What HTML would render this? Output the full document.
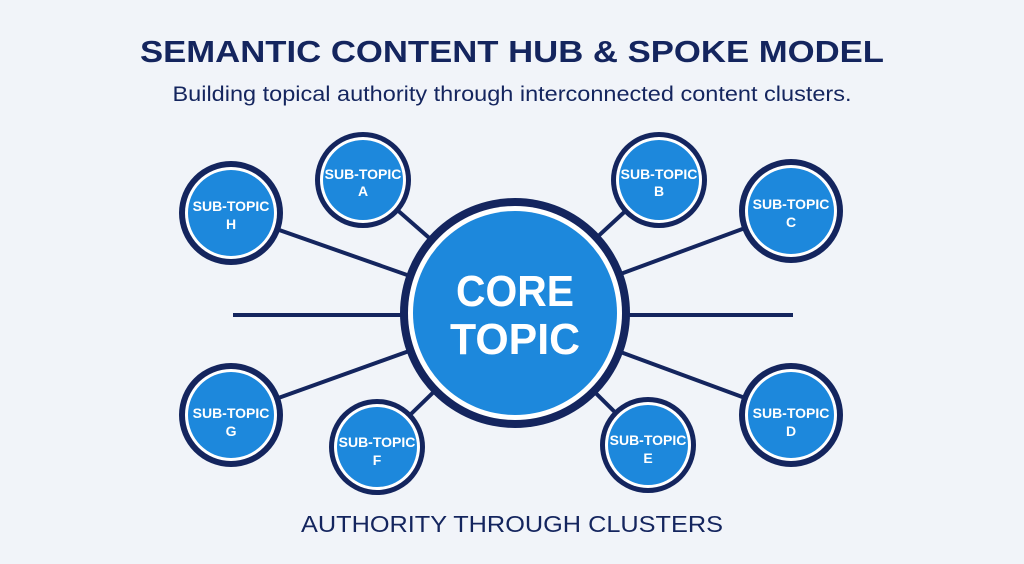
<!DOCTYPE html>
<html><head><style>
body{margin:0;width:1024px;height:559px;background:#f1f4f9;overflow:hidden;font-family:"Liberation Sans",sans-serif}
</style></head><body>
<svg width="1024" height="559" viewBox="0 0 1024 559" xmlns="http://www.w3.org/2000/svg">
<rect width="1024" height="559" fill="#f1f4f9"/>
<text x="512" y="62" text-anchor="middle" font-family="Liberation Sans" font-weight="bold" font-size="31" fill="#14255e" textLength="744" lengthAdjust="spacingAndGlyphs">SEMANTIC CONTENT HUB &amp; SPOKE MODEL</text>
<text x="512" y="101" text-anchor="middle" font-family="Liberation Sans" font-size="21" fill="#14255e" textLength="679" lengthAdjust="spacingAndGlyphs">Building topical authority through interconnected content clusters.</text>
<g stroke="#14255e" stroke-width="4">
<line x1="233" y1="315" x2="410" y2="315"/>
<line x1="620" y1="315" x2="793" y2="315"/>
<line x1="231" y1="213" x2="515" y2="313"/>
<line x1="363" y1="180" x2="515" y2="313"/>
<line x1="659" y1="180" x2="515" y2="313"/>
<line x1="791" y1="211" x2="515" y2="313"/>
<line x1="231" y1="415" x2="515" y2="313"/>
<line x1="377" y1="447" x2="515" y2="313"/>
<line x1="648" y1="445" x2="515" y2="313"/>
<line x1="791" y1="415" x2="515" y2="313"/>
</g>
<g>
<circle cx="515" cy="313" r="115" fill="#14255e"/>
<circle cx="515" cy="313" r="107" fill="#fff"/>
<circle cx="515" cy="313" r="102" fill="#1d88dc"/>
<text x="515" y="306" text-anchor="middle" font-weight="bold" font-size="44" fill="#fff" textLength="118" lengthAdjust="spacingAndGlyphs">CORE</text>
<text x="515" y="354" text-anchor="middle" font-weight="bold" font-size="44" fill="#fff" textLength="130" lengthAdjust="spacingAndGlyphs">TOPIC</text>
</g>
<g font-weight="bold" font-size="14" fill="#fff" text-anchor="middle">
<g transform="translate(363,180)"><circle r="48" fill="#14255e"/><circle r="43" fill="#fff"/><circle r="40" fill="#1d88dc"/><text y="-1">SUB-TOPIC</text><text y="16">A</text></g>
<g transform="translate(659,180)"><circle r="48" fill="#14255e"/><circle r="43" fill="#fff"/><circle r="40" fill="#1d88dc"/><text y="-1">SUB-TOPIC</text><text y="16">B</text></g>
<g transform="translate(231,213)"><circle r="52" fill="#14255e"/><circle r="46" fill="#fff"/><circle r="43" fill="#1d88dc"/><text y="-2">SUB-TOPIC</text><text y="16">H</text></g>
<g transform="translate(791,211)"><circle r="52" fill="#14255e"/><circle r="46" fill="#fff"/><circle r="43" fill="#1d88dc"/><text y="-2">SUB-TOPIC</text><text y="16">C</text></g>
<g transform="translate(231,415)"><circle r="52" fill="#14255e"/><circle r="46" fill="#fff"/><circle r="43" fill="#1d88dc"/><text y="3">SUB-TOPIC</text><text y="21">G</text></g>
<g transform="translate(791,415)"><circle r="52" fill="#14255e"/><circle r="46" fill="#fff"/><circle r="43" fill="#1d88dc"/><text y="3">SUB-TOPIC</text><text y="21">D</text></g>
<g transform="translate(377,447)"><circle r="48" fill="#14255e"/><circle r="43" fill="#fff"/><circle r="40" fill="#1d88dc"/><text y="0">SUB-TOPIC</text><text y="18">F</text></g>
<g transform="translate(648,445)"><circle r="48" fill="#14255e"/><circle r="43" fill="#fff"/><circle r="40" fill="#1d88dc"/><text y="0">SUB-TOPIC</text><text y="18">E</text></g>
</g>
<text x="512" y="532" text-anchor="middle" font-family="Liberation Sans" font-size="23" fill="#14255e" textLength="422" lengthAdjust="spacingAndGlyphs">AUTHORITY THROUGH CLUSTERS</text>
</svg>
</body></html>
